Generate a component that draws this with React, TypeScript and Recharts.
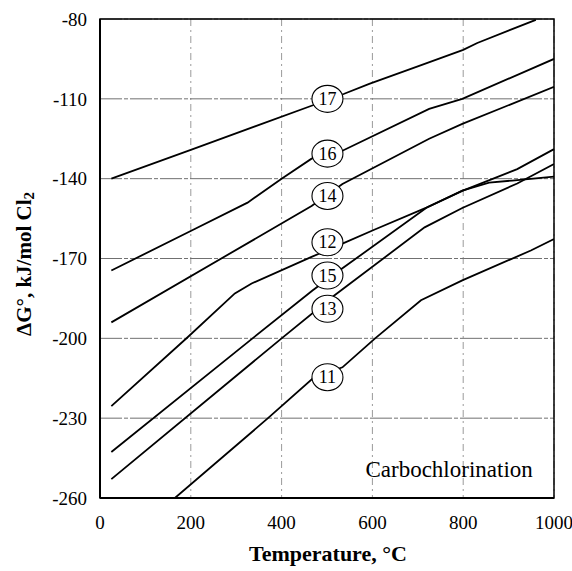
import React from 'react';
import {
  LineChart,
  Line,
  XAxis,
  YAxis,
  CartesianGrid,
  ReferenceDot,
  ReferenceArea,
} from 'recharts';

const FONT = "'Liberation Serif', serif";

// [temperature °C, ΔG° kJ/mol Cl2]
const curve17: [number, number][] = [[25, -140], [203, -129], [466, -112.6], [538, -108.1], [593, -104.4], [703, -97.6], [800, -91.6], [831, -89], [960, -80.3]];
const curve16: [number, number][] = [[25, -174.5], [202, -159.5], [325, -149], [400, -140], [466, -132.5], [534, -129.5], [725, -113.8], [798, -110], [1000, -95]];
const curve14: [number, number][] = [[25, -194], [466, -150.3], [534, -142], [725, -125], [798, -119.4], [1000, -105.5]];
const curve12: [number, number][] = [[25, -225.5], [193, -199.6], [297, -183.1], [334, -179.4], [466, -169.4], [534, -164.4], [604, -159.2], [719, -150.9], [798, -144.6], [919, -136.4], [1000, -128.9]];
const curve15: [number, number][] = [[25, -242.7], [336, -200], [468, -182], [534, -173.7], [719, -150.9], [798, -144.5], [857, -141.5], [908, -140.7], [1000, -139.2]];
const curve13: [number, number][] = [[25, -252.9], [400, -200], [516, -183.9], [715, -158.3], [798, -151], [919, -141.8], [1000, -134.5]];
const curve11: [number, number][] = [[165, -260], [370, -230], [469, -215], [534, -210.9], [606, -200], [707, -185.7], [798, -178.2], [949, -167], [1000, -162.7]];

const curves = [curve17, curve16, curve14, curve12, curve15, curve13, curve11];

// circled reaction numbers
const labelNames = ['17', '16', '14', '12', '15', '13', '11'];
const labelG = [-110, -130.6, -146.5, -163.9, -176.4, -188.9, -214.6];
const labelT = 501;

const xTicks = [0, 200, 400, 600, 800, 1000];
const yTicks = [-260, -230, -200, -170, -140, -110, -80];

const toPoints = (c: [number, number][]) => c.map(([t, g]) => ({ t, g }));

const XTick = ({ x, y, payload }: any) => (
  <text x={x} y={y} dy="0.71em" textAnchor="middle" fontFamily={FONT} fontSize={19} fill="#000">
    {payload.value}
  </text>
);

const YTick = ({ x, y, payload }: any) => (
  <text x={x} y={y} dy="0.355em" textAnchor="end" fontFamily={FONT} fontSize={19} fill="#000">
    {payload.value}
  </text>
);

const CircleTag = (props: any) => {
  const { cx, cy, name } = props;
  return (
    <g>
      <ellipse cx={cx} cy={cy} rx={15.5} ry={13.5} fill="#fff" stroke="#000" strokeWidth={1.1} />
      <text x={cx} y={cy} textAnchor="middle" dominantBaseline="central" fontFamily={FONT} fontSize={18} fill="#000">
        {name}
      </text>
    </g>
  );
};

const YTitle = () => (
  <text
    x={24}
    y={264}
    transform="rotate(-90 24 264)"
    textAnchor="middle"
    dominantBaseline="central"
    fontFamily={FONT}
    fontWeight="bold"
    fontSize={21}
    fill="#000"
  >
    ΔG°, kJ/mol Cl<tspan dy={5} fontSize={15}>2</tspan>
  </text>
);

const XTitle = () => (
  <text x={328} y={553} textAnchor="middle" dominantBaseline="central" fontFamily={FONT} fontWeight="bold" fontSize={22} fill="#000">
    Temperature, °C
  </text>
);

export default function App() {
  return (
    <div style={{ position: 'absolute', left: 0, top: 0, width: 572, height: 571 }}>
      <LineChart width={572} height={571} margin={{ top: 19, right: 18, bottom: 0, left: 0 }}>
        <CartesianGrid horizontal={false} stroke="#9a9a9a" strokeDasharray="7 4 2 4" strokeWidth={1} />
        <CartesianGrid vertical={false} stroke="#707070" strokeDasharray="22 2 4 2" strokeWidth={1} />
        <XAxis
          dataKey="t"
          type="number"
          domain={[0, 1000]}
          ticks={xTicks}
          height={73}
          tickSize={0}
          tickMargin={18}
          axisLine={{ stroke: '#000', strokeWidth: 2 }}
          tick={<XTick />}
          label={<XTitle />}
          allowDataOverflow
        />
        <YAxis
          type="number"
          domain={[-260, -80]}
          ticks={yTicks}
          width={100}
          tickSize={0}
          tickMargin={13}
          axisLine={{ stroke: '#000', strokeWidth: 2 }}
          tick={<YTick />}
          label={<YTitle />}
          allowDataOverflow
        />
        <ReferenceArea x1={0} x2={1000} y1={-260} y2={-80} fill="none" stroke="#000" strokeWidth={1.5} />
        {curves.map((c, i) => (
          <Line
            key={labelNames[i]}
            data={toPoints(c)}
            dataKey="g"
            type="linear"
            stroke="#000"
            strokeWidth={1.8}
            dot={false}
            activeDot={false}
            isAnimationActive={false}
          />
        ))}
        {labelNames.map((n, i) => (
          <ReferenceDot key={`tag-${n}`} x={labelT} y={labelG[i]} shape={(p: any) => <CircleTag {...p} name={n} />} />
        ))}
        <ReferenceDot
          x={769}
          y={-249.2}
          shape={(p: any) => (
            <text x={p.cx} y={p.cy} textAnchor="middle" dominantBaseline="central" fontFamily={FONT} fontSize={23} fill="#000">
              Carbochlorination
            </text>
          )}
        />
      </LineChart>
    </div>
  );
}
